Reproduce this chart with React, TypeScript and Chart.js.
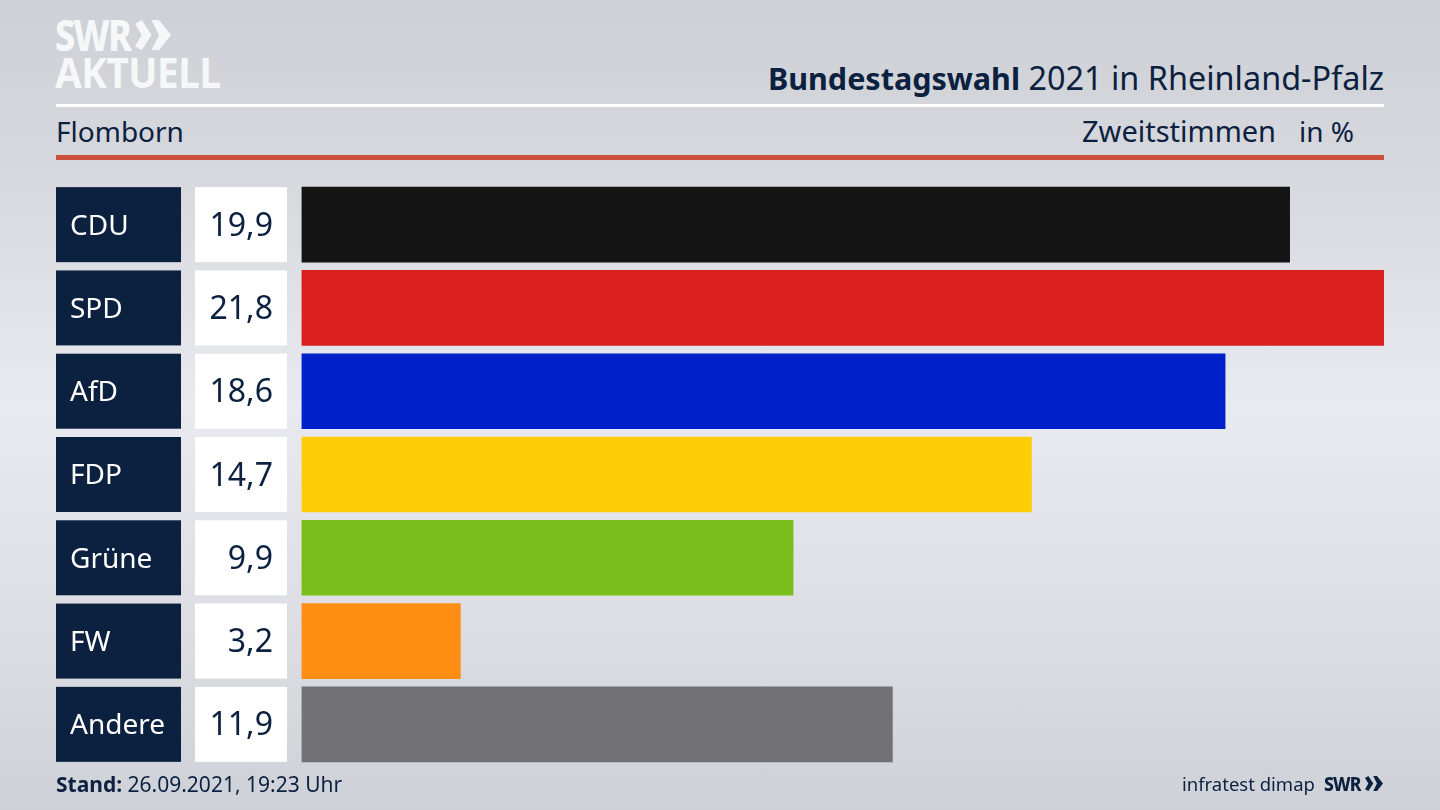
import React, { useEffect, useRef } from "react";
import { Chart, registerables } from "chart.js";

Chart.register(...registerables);

const parties = ["CDU", "SPD", "AfD", "FDP", "Grüne", "FW", "Andere"];
const values = [19.9, 21.8, 18.6, 14.7, 9.9, 3.2, 11.9];
const valueLabels = ["19,9", "21,8", "18,6", "14,7", "9,9", "3,2", "11,9"];
const colors = ["#141414", "#d9201f", "#0021c9", "#ffcc08", "#79bd1a", "#ff8f14", "#727274"];

const FONT = '"Noto Sans", sans-serif';
const NAVY = "#0c2040";

const labelBoxes = {
  id: "labelBoxes",
  afterDatasetsDraw(chart: any) {
    const { ctx } = chart;
    const y = chart.scales.y;
    parties.forEach((p, i) => {
      const cy = y.getPixelForValue(i);
      const top = cy - 37.5;
      ctx.save();
      ctx.fillStyle = NAVY;
      ctx.fillRect(56, top, 125, 75);
      ctx.fillStyle = "#ffffff";
      ctx.fillRect(195, top, 92, 75);
      ctx.textBaseline = "middle";
      ctx.font = `400 28px ${FONT}`;
      ctx.fillStyle = "#ffffff";
      ctx.textAlign = "left";
      ctx.fillText(p, 70, cy + 2);
      ctx.font = `400 32px ${FONT}`;
      ctx.fillStyle = NAVY;
      ctx.textAlign = "right";
      ctx.fillText(valueLabels[i], 273, cy + 2);
      ctx.restore();
    });
  },
};

const abs = (o: React.CSSProperties): React.CSSProperties => ({
  position: "absolute",
  whiteSpace: "nowrap",
  fontFamily: FONT,
  color: NAVY,
  lineHeight: 1,
  ...o,
});

const Chevrons = ({ x, y, h, color }: { x: number; y: number; h: number; color: string }) => (
  <svg
    style={{ position: "absolute", left: x, top: y }}
    width={h * 1.2}
    height={h}
    viewBox="0 0 48 40"
  >
    <polygon points="0,5 9,0 22,20 9,40 0,35 9,20" fill={color} />
    <polygon points="22,0 32,0 48,20 32,40 22,40 32,20" fill={color} />
  </svg>
);

export default function App() {
  const ref = useRef<HTMLCanvasElement>(null);
  useEffect(() => {
    document.body.style.margin = "0";
    const chart = new Chart(ref.current as HTMLCanvasElement, {
      type: "bar",
      data: {
        labels: parties,
        datasets: [
          {
            data: values,
            backgroundColor: colors,
            barThickness: 75,
            borderWidth: 0,
          },
        ],
      },
      options: {
        indexAxis: "y",
        animation: false,
        responsive: false,
        devicePixelRatio: 1,
        layout: { padding: { left: 301.5, right: 56, top: 183, bottom: 44 } },
        plugins: { legend: { display: false }, tooltip: { enabled: false } },
        scales: {
          x: { display: false, min: 0, max: 21.8 },
          y: { display: false },
        },
      },
      plugins: [labelBoxes],
    } as any);
    return () => chart.destroy();
  }, []);

  return (
    <div
      style={{
        position: "relative",
        width: 1440,
        height: 810,
        overflow: "hidden",
        background:
          "linear-gradient(180deg, #cdd0d6 0%, #d8dadf 25%, #e9eaef 50%, #dddfe4 75%, #ced1d7 100%)",
      }}
    >
      <div style={abs({ left: 55, top: 14, fontSize: 42, fontWeight: 800, color: "#f6f7f8", letterSpacing: -2, transform: "scaleX(0.86)", transformOrigin: "left" })}>SWR</div>
      <Chevrons x={135} y={20} h={30} color="#f6f7f8" />
      <div style={abs({ left: 55, top: 51, fontSize: 42, fontWeight: 700, color: "#f6f7f8", letterSpacing: -0.5, transform: "scaleX(0.92)", transformOrigin: "left" })}>AKTUELL</div>
      <div style={abs({ right: 56, top: 61, fontSize: 32.4 })}>
        <b style={{ fontSize: 30.5 }}>Bundestagswahl</b> 2021 in Rheinland-Pfalz
      </div>
      <div style={{ position: "absolute", left: 56, top: 104, width: 1328, height: 3, background: "#ffffff" }} />
      <div style={abs({ left: 56, top: 117, fontSize: 28 })}>Flomborn</div>
      <div style={abs({ left: 1082, top: 116, fontSize: 29 })}>Zweitstimmen</div>
      <div style={abs({ left: 1299, top: 117, fontSize: 28 })}>in %</div>
      <div style={{ position: "absolute", left: 56, top: 155, width: 1328, height: 5, background: "#cb4f3c" }} />
      <canvas ref={ref} width={1440} height={810} style={{ position: "absolute", left: 0, top: 0, display: "block" }} />
      <div style={abs({ left: 56, top: 774, fontSize: 21 })}>
        <b>Stand:</b> 26.09.2021, 19:23 Uhr
      </div>
      <div style={abs({ left: 1182, top: 775, fontSize: 18.5 })}>infratest dimap</div>
      <div style={abs({ left: 1324, top: 774, fontSize: 20, fontWeight: 800, letterSpacing: -1, transform: "scaleX(0.88)", transformOrigin: "left" })}>SWR</div>
      <Chevrons x={1365} y={776} h={15} color={NAVY} />
    </div>
  );
}
